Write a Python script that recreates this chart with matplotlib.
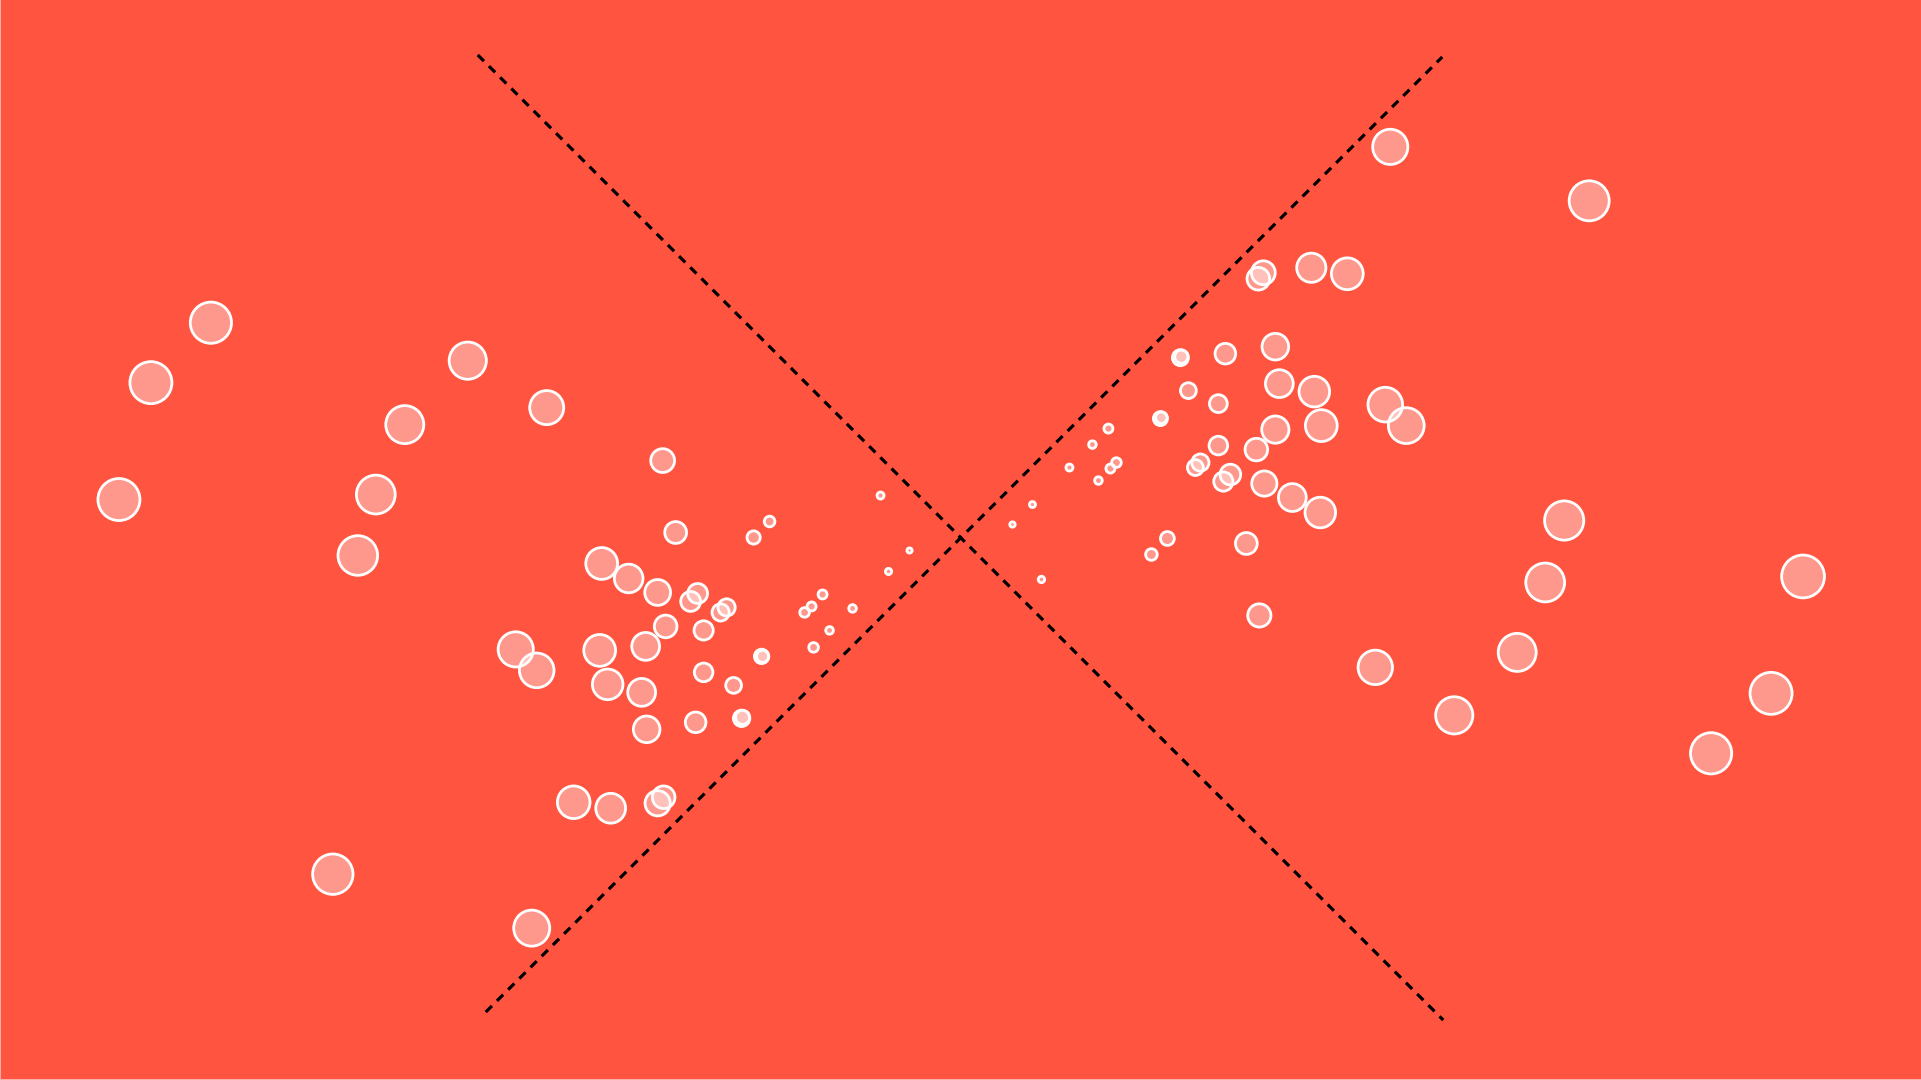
import matplotlib
matplotlib.use("Agg")
import matplotlib.pyplot as plt
import numpy as np

# ---- data (canvas units: x 0..1921 to the right, y 0..1080 downward) ----
outer_left_x = [210, 150, 118, 467, 404, 546, 375, 357, 332, 531]
outer_left_y = [323, 383, 500, 361, 425, 408, 495, 556, 875, 929]
outer_left_r = [22, 22.4, 22.4, 20, 20.4, 18.4, 20.8, 21.2, 21.6, 19.4]

cluster_left_x = [662, 675, 753, 769, 601, 628, 657, 690, 697, 720, 726, 665, 703,
                  515, 536, 599, 645, 607, 641, 646, 703, 733, 761, 762, 695, 741, 742,
                  573, 610, 657, 663]
cluster_left_y = [461, 533, 538, 522, 564, 579, 593, 602, 594, 613, 608, 627, 631,
                  650, 671, 651, 647, 685, 693, 730, 673, 686, 657, 657, 723, 719, 718,
                  803, 809, 804, 798]
cluster_left_r = [13.3, 12.3, 8, 6.7, 17.3, 15.7, 14.3, 11.3, 11.3, 10, 10, 12.7, 11,
                  19, 18.7, 17.3, 15.3, 16.7, 15.3, 14.7, 10.7, 9.3, 8.6, 7.4, 11.7, 9.6, 8.4,
                  17.7, 16.3, 14, 12.7]

small_left_x = [880, 909, 888, 822, 811, 804, 852, 829, 813]
small_left_y = [496, 551, 572, 595, 607, 613, 609, 631, 648]
small_left_r = [4.9, 4.0, 4.5, 5.9, 5.9, 6.2, 5.2, 5.2, 6.2]

cluster_right_x = [1263, 1258, 1311, 1347, 1275, 1225, 1180, 1181, 1279, 1314, 1188, 1218,
                   1160, 1161, 1385, 1406, 1321, 1275, 1108, 1092, 1218, 1256, 1116, 1110,
                   1069, 1098, 1200, 1195, 1230, 1223, 1264, 1292, 1320, 1032, 1012, 1041,
                   1167, 1151, 1246, 1259]
cluster_right_y = [273, 279, 268, 274, 347, 354, 358, 357, 384, 392, 391, 404,
                   419, 418, 405, 426, 426, 430, 429, 445, 446, 450, 463, 469,
                   468, 481, 463, 468, 475, 482, 484, 498, 513, 505, 525, 580,
                   539, 555, 544, 616]
cluster_right_r = [13.3, 12.7, 16, 17.3, 14.7, 11.7, 9.4, 8.0, 15.3, 16.7, 9.3, 10.3,
                   8.4, 7.2, 18.7, 19.3, 17.3, 15, 5.9, 5.2, 10.7, 12.7, 6.2, 5.9,
                   4.9, 5.2, 10, 9.3, 11.7, 11, 14, 15.3, 16.7, 4.4, 4.1, 4.6,
                   8.3, 7.2, 12.3, 13]

outer_right_x = [1390, 1589, 1564, 1545, 1803, 1517, 1375, 1454, 1771, 1711]
outer_right_y = [147, 201, 521, 583, 577, 653, 668, 716, 694, 754]
outer_right_r = [19, 21.4, 21, 20.8, 22.8, 20.4, 18.6, 20, 22.4, 22]

# dashed guide diagonals (from end to end)
guide1_x = [477, 1443]
guide1_y = [55, 1021]
guide2_x = [485, 1442]
guide2_y = [1013, 57]

# ---- style ----
BG = "#FF5540"
EDGE_LW = 2.0  # points
W, H = 1921, 1080

fig = plt.figure(figsize=(W / 100, H / 100), dpi=100)
fig.patch.set_facecolor("#F6B0A6")
ax = fig.add_axes([1 / W, 1 / H, 1 - 1 / W, 1 - 1 / H])
ax.set_facecolor(BG)
ax.set_xlim(0, W)
ax.set_ylim(H, 0)
ax.axis("off")
ax.add_patch(plt.Rectangle((0, 0), W, H, facecolor=BG, edgecolor="none", zorder=0))

for gx, gy in [(guide1_x, guide1_y), (guide2_x, guide2_y)]:
    ax.plot(gx, gy, color="black", lw=2.3, linestyle=(0, (2.75, 2.2)),
            dash_capstyle="butt", zorder=1)

xs = np.array(outer_left_x + cluster_left_x + small_left_x + cluster_right_x + outer_right_x, float)
ys = np.array(outer_left_y + cluster_left_y + small_left_y + cluster_right_y + outer_right_y, float)
rs = np.array(outer_left_r + cluster_left_r + small_left_r + cluster_right_r + outer_right_r, float)

lw_px = EDGE_LW / 0.72
diam_pt = np.maximum(2 * (rs - lw_px / 2), 1.0) * 0.72
ax.scatter(xs, ys, s=diam_pt ** 2, facecolors=(1, 1, 1, 0.4), edgecolors="white",
           linewidths=EDGE_LW, zorder=2)

fig.savefig("out.png", dpi=100, facecolor=fig.get_facecolor())
